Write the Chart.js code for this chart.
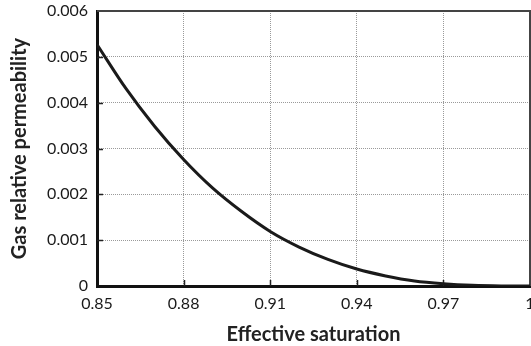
<!DOCTYPE html>
<html>
<head>
<meta charset="utf-8">
<script src="https://cdn.jsdelivr.net/npm/chart.js@4/dist/chart.umd.min.js"></script>
<style>
    html, body { margin: 0; padding: 0; background: #fff; overflow: hidden; }
</style>
</head>
<body>
<canvas id="krChart" width="531" height="346"></canvas>
<script>
// effective saturation and gas relative permeability along the curve
const saturation = [0.85, 0.86, 0.87, 0.88, 0.89, 0.90, 0.91, 0.92, 0.93, 0.94, 0.95, 0.96, 0.97, 0.98, 0.99, 1.00]
const gasKr = [0.00527, 0.00431, 0.00348, 0.00276, 0.00214, 0.00163, 0.00119, 0.00085, 0.00058, 0.00037, 0.00022, 0.00011, 0.00005, 0.000015, 0.000002, 0]

const xTicks = [0.85, 0.88, 0.91, 0.94, 0.97, 1]
const yTicks = [0, 0.001, 0.002, 0.003, 0.004, 0.005, 0.006]

const fontFamily = 'Lato, "Open Sans", sans-serif'

// short inward tick marks plus the thin top/right frame
const framePlugin = {
    id: 'frame',
    beforeDatasetsDraw(chart) {
        const {ctx, chartArea: a, scales: {x, y}} = chart
        ctx.save()
        ctx.strokeStyle = '#222'
        ctx.lineWidth = 1.5
        ctx.beginPath()
        xTicks.slice(1, -1).forEach(v => {
            const px = Math.round(x.getPixelForValue(v)) + 0.5
            ctx.moveTo(px, a.bottom)
            ctx.lineTo(px, a.bottom - 6)
        })
        yTicks.slice(1, -1).forEach(v => {
            const py = Math.round(y.getPixelForValue(v)) + 0.5
            ctx.moveTo(a.left, py)
            ctx.lineTo(a.left + 6, py)
        })
        ctx.stroke()

        ctx.strokeStyle = '#444'
        ctx.lineWidth = 2
        ctx.beginPath()
        ctx.moveTo(a.left, a.top)
        ctx.lineTo(a.right, a.top)
        ctx.lineTo(a.right, a.bottom)
        ctx.stroke()
        ctx.restore()
    }
}

const config = {
    type: 'line',
    data: {
        datasets: [{
            data: saturation.map((s, i) => ({x: s, y: gasKr[i]})),
            borderColor: '#1a1a1a',
            borderWidth: 3,
            pointRadius: 0,
            fill: false,
            cubicInterpolationMode: 'monotone'
        }]
    },
    options: {
        responsive: false,
        animation: false,
        layout: {padding: {top: 0, left: 2, right: 1, bottom: 0}},
        plugins: {legend: {display: false}, tooltip: {enabled: false}},
        scales: {
            x: {
                type: 'linear',
                min: 0.85,
                max: 1,
                afterBuildTicks: scale => { scale.ticks = xTicks.map(v => ({value: v})) },
                // fixed axis band; the last label is allowed to run off the edge
                afterFit: scale => {
                    scale.height = 60
                    scale.paddingLeft = 0
                    scale.paddingRight = 0
                },
                ticks: {
                    color: '#1a1a1a',
                    padding: 8,
                    maxRotation: 0,
                    font: {family: fontFamily, size: 16},
                    callback: v => String(v)
                },
                grid: {color: '#9a9a9a', lineWidth: 1, drawTicks: false},
                border: {color: '#111', width: 3, dash: [1, 1]},
                title: {
                    display: true,
                    text: 'Effective saturation',
                    color: '#222',
                    padding: {top: 10, bottom: -1},
                    font: {family: fontFamily, size: 20, weight: 'bold'}
                }
            },
            y: {
                min: 0,
                max: 0.006,
                afterBuildTicks: scale => { scale.ticks = yTicks.map(v => ({value: v})) },
                afterFit: scale => {
                    scale.width = 95
                    scale.paddingTop = 11
                    scale.paddingBottom = 0
                },
                ticks: {
                    color: '#1a1a1a',
                    padding: 9,
                    font: {family: fontFamily, size: 16},
                    callback: v => v === 0 ? '0' : v.toFixed(3)
                },
                grid: {color: '#9a9a9a', lineWidth: 1, drawTicks: false},
                border: {color: '#111', width: 3, dash: [1, 1]},
                title: {
                    display: true,
                    text: 'Gas relative permeability',
                    color: '#222',
                    padding: {top: 6, bottom: 8},
                    font: {family: fontFamily, size: 20, weight: 'bold'}
                }
            }
        }
    },
    plugins: [framePlugin]
}

const krChart = new Chart(document.getElementById('krChart'), config)
</script>
</body>
</html>
